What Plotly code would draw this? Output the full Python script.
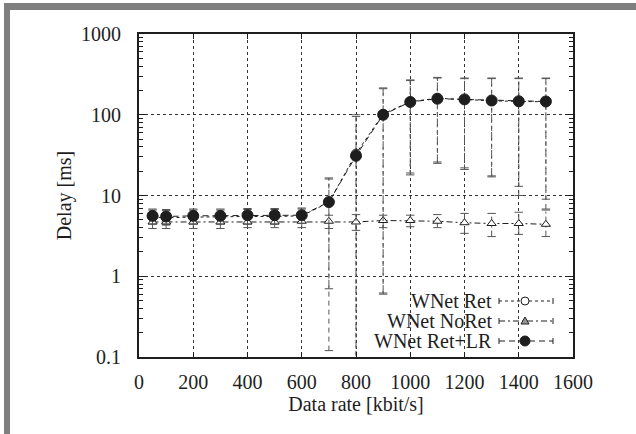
import plotly.graph_objects as go

# ---- data ----
rates = [50, 100, 200, 300, 400, 500, 600, 700, 800, 900, 1000, 1100, 1200, 1300, 1400, 1500]

ret_mean = [5.4, 5.3, 5.4, 5.5, 5.5, 5.5, 5.6, 8.2, 33, 102, 145, 160, 154, 149, 146, 145]
ret_lo   = [4.5, 4.4, 4.5, 4.5, 4.5, 4.5, 4.6, 0.7, 0.09, 0.6, 19, 25, 22, 17, 13, 9]
ret_hi   = [6.6, 6.5, 6.6, 6.6, 6.7, 6.7, 6.8, 16, 95, 210, 265, 285, 280, 280, 280, 280]

noret_mean = [4.7, 4.7, 4.7, 4.7, 4.7, 4.7, 4.8, 4.8, 4.7, 4.9, 4.9, 4.8, 4.6, 4.5, 4.5, 4.4]
noret_lo   = [3.9, 3.9, 3.9, 3.9, 4.0, 4.0, 4.0, 3.9, 3.7, 4.0, 4.1, 4.0, 3.4, 3.1, 3.3, 3.1]
noret_hi   = [5.4, 5.4, 5.4, 5.4, 5.4, 5.4, 5.5, 5.7, 5.8, 5.7, 5.7, 5.8, 6.0, 6.0, 6.2, 6.6]

lr_mean = [5.6, 5.5, 5.6, 5.6, 5.7, 5.7, 5.7, 8.3, 31, 100, 144, 158, 155, 150, 147, 146]
lr_lo   = [4.4, 4.3, 4.4, 4.4, 4.4, 4.4, 4.5, 0.12, 0.08, 0.62, 18, 26, 21, 17.5, 10, 6.8]
lr_hi   = [6.8, 6.7, 6.8, 6.8, 6.9, 6.9, 7.0, 16.5, 100, 215, 270, 290, 285, 285, 285, 285]

x_ticks = [0, 200, 400, 600, 800, 1000, 1200, 1400, 1600]
y_ticks = [0.1, 1, 10, 100, 1000]
y_ticktext = ["0.1", "1", "10", "100", "1000"]
legend_names = ["WNet Ret", "WNet NoRet", "WNet Ret+LR"]

INK = "#1e1e1e"
FONT = "Liberation Serif, Times New Roman, Times, serif"
FS = 20

fig = go.Figure()


def err_segments(xs, lo, hi):
    ex, ey = [], []
    for xv, l, h in zip(xs, lo, hi):
        ex += [xv, xv, None]
        ey += [l, h, None]
    return ex, ey


def add_series(mean, lo, hi, dash, edash, symbol, size, mfill):
    ex, ey = err_segments(rates, lo, hi)
    fig.add_trace(go.Scatter(x=ex, y=ey, mode="lines",
                             line=dict(color="#555", width=1, dash=edash),
                             hoverinfo="skip"))
    fig.add_trace(go.Scatter(x=rates + rates, y=lo + hi, mode="markers",
                             marker=dict(symbol="line-ew", size=6,
                                         line=dict(color="#555", width=1)),
                             hoverinfo="skip"))
    fig.add_trace(go.Scatter(x=rates, y=mean, mode="lines+markers",
                             line=dict(color=INK, width=1, dash=dash),
                             marker=dict(symbol=symbol, size=size, color=mfill,
                                         line=dict(color=INK, width=1))))


add_series(ret_mean, ret_lo, ret_hi, "3px,3px", "3px,3px", "circle-open", 9, INK)
add_series(noret_mean, noret_lo, noret_hi, "6px,3px,2px,3px", "6px,3px,2px,3px",
           "triangle-up", 8, "white")
add_series(lr_mean, lr_lo, lr_hi, "6px,4px", "5px,4px", "circle", 11, INK)

minor_vals = [m * 10 ** e for e in range(-1, 3) for m in range(2, 10)]

fig.update_xaxes(range=[0, 1600], tickvals=x_ticks,
                 showline=True, linecolor=INK, linewidth=2, mirror="ticks",
                 ticks="inside", ticklen=5, tickcolor=INK,
                 showgrid=True, gridcolor="#333", gridwidth=1, griddash="3px,3px",
                 zeroline=False, ticklabelstandoff=6,
                 tickfont=dict(family=FONT, size=FS, color=INK),
                 title=dict(text="Data rate [kbit/s]",
                            font=dict(family=FONT, size=FS, color=INK), standoff=2))
fig.update_yaxes(type="log", range=[-1, 3], tickvals=y_ticks, ticktext=y_ticktext,
                 showline=True, linecolor=INK, linewidth=2, mirror="ticks",
                 ticks="inside", ticklen=8, tickcolor=INK,
                 minor=dict(tickvals=minor_vals, ticks="inside", ticklen=4,
                            tickcolor=INK, showgrid=False),
                 showgrid=True, gridcolor="#333", gridwidth=1, griddash="3px,3px",
                 zeroline=False, ticklabelstandoff=12,
                 tickfont=dict(family=FONT, size=FS, color=INK),
                 title=dict(text="Delay [ms]",
                            font=dict(family=FONT, size=FS, color=INK), standoff=4))

# ---- geometry helpers (pixel -> paper) ----
W, H = 636, 434
L, R, T, B = 139, 573, 34, 357


def px(xp):
    return (xp - L) / (R - L)


def py(yp):
    return (B - yp) / (B - T)


shapes = []
# grey page border (left and top)
shapes.append(dict(type="rect", xref="paper", yref="paper",
                   x0=px(4), x1=px(10), y0=py(434), y1=py(3),
                   fillcolor="#7f7f7f", line=dict(width=0), layer="above"))
shapes.append(dict(type="rect", xref="paper", yref="paper",
                   x0=px(4), x1=px(636), y0=py(10), y1=py(3),
                   fillcolor="#7f7f7f", line=dict(width=0), layer="above"))

# ---- legend drawn manually (text right-aligned, sample on the right) ----
rows = [301, 321, 341]
dashes = ["3px,3px", "6px,3px,2px,3px", "6px,4px"]
annotations = []
for name, yr, dsh, i in zip(legend_names, rows, dashes, range(3)):
    annotations.append(dict(text=name, xref="paper", yref="paper",
                            x=px(494), y=py(yr), xanchor="right", yanchor="middle",
                            showarrow=False,
                            font=dict(family=FONT, size=FS, color=INK)))
    shapes.append(dict(type="line", xref="paper", yref="paper",
                       x0=px(499), x1=px(553), y0=py(yr), y1=py(yr),
                       line=dict(color=INK, width=1, dash=dsh)))
    for xe in (499, 553):
        shapes.append(dict(type="line", xref="paper", yref="paper",
                           x0=px(xe), x1=px(xe), y0=py(yr - 3), y1=py(yr + 3),
                           line=dict(color=INK, width=1)))
    cx = 525
    if i == 0:
        shapes.append(dict(type="circle", xref="paper", yref="paper",
                           x0=px(cx - 4), x1=px(cx + 4), y0=py(yr + 4), y1=py(yr - 4),
                           fillcolor="white", line=dict(color=INK, width=1)))
    elif i == 1:
        path = "M {} {} L {} {} L {} {} Z".format(
            px(cx - 4), py(yr + 3), px(cx + 4), py(yr + 3), px(cx), py(yr - 4))
        shapes.append(dict(type="path", xref="paper", yref="paper", path=path,
                           fillcolor="#999", line=dict(color=INK, width=1)))
    else:
        shapes.append(dict(type="circle", xref="paper", yref="paper",
                           x0=px(cx - 5), x1=px(cx + 5), y0=py(yr + 5), y1=py(yr - 5),
                           fillcolor=INK, line=dict(color=INK, width=1)))

fig.update_layout(width=W, height=H,
                  margin=dict(l=L, r=W - R, t=T, b=H - B),
                  paper_bgcolor="white", plot_bgcolor="white",
                  showlegend=False, shapes=shapes, annotations=annotations,
                  font=dict(family=FONT, color=INK))

fig.write_html("out.html")
